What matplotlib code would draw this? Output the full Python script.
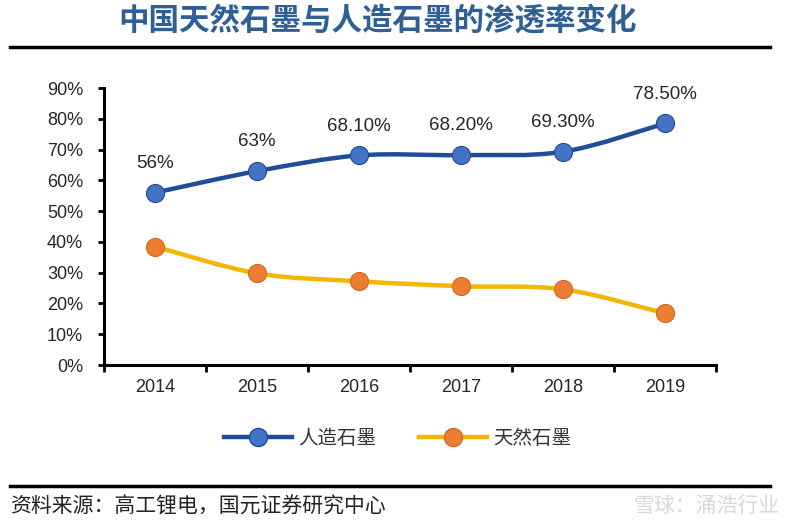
import numpy as np
import matplotlib
matplotlib.use("Agg")
import matplotlib.pyplot as plt
from matplotlib.path import Path
from matplotlib.patches import PathPatch
from matplotlib.lines import Line2D

plt.rcParams['font.family'] = ['Noto Sans CJK SC', 'DejaVu Sans']

years = ['2014', '2015', '2016', '2017', '2018', '2019']
synthetic = [0.56, 0.63, 0.681, 0.682, 0.693, 0.785]
synthetic_labels = ['56%', '63%', '68.10%', '68.20%', '69.30%', '78.50%']
natural = [0.385, 0.298, 0.272, 0.256, 0.246, 0.168]


def smooth_path(x, y, t=0.5 / 3):
    # Excel-style smoothed line as cubic bezier segments
    x = np.asarray(x, float)
    y = np.asarray(y, float)
    verts = [(x[0], y[0])]
    codes = [Path.MOVETO]
    n = len(x)
    for i in range(n - 1):
        x0, y0 = (x[i - 1], y[i - 1]) if i > 0 else (x[i], y[i])
        x3, y3 = (x[i + 2], y[i + 2]) if i + 2 < n else (x[i + 1], y[i + 1])
        c1 = (x[i] + (x[i + 1] - x0) * t, y[i] + (y[i + 1] - y0) * t)
        c2 = (x[i + 1] - (x3 - x[i]) * t, y[i + 1] - (y3 - y[i]) * t)
        verts += [c1, c2, (x[i + 1], y[i + 1])]
        codes += [Path.CURVE4] * 3
    return Path(verts, codes)


fig = plt.figure(figsize=(8, 5.29), dpi=100)
ax = fig.add_axes([0.13, 0.31, 0.765, 0.5236])

xs = np.arange(len(years))
blue_line = '#1F4E96'
blue_dot = '#4472C4'
gold_line = '#F2B705'
orange_dot = '#ED7D31'

ax.add_patch(PathPatch(smooth_path(xs, synthetic), fill=False, edgecolor=blue_line, lw=3.2, zorder=2))
ax.add_patch(PathPatch(smooth_path(xs, natural), fill=False, edgecolor=gold_line, lw=3.2, zorder=2))
ax.scatter(xs, synthetic, s=170, color=blue_dot, edgecolor=blue_line, linewidth=0.8, zorder=3)
ax.scatter(xs, natural, s=170, color=orange_dot, edgecolor='#D06A20', linewidth=0.8, zorder=3)

for x, y, lab in zip(xs, synthetic, synthetic_labels):
    ax.annotate(lab, (x, y), xytext=(0, 15), textcoords='offset points',
                ha='center', va='bottom', fontsize=13.5, color='#262626',
                family='Liberation Sans')

ax.set_xlim(-0.5, len(years) - 0.5)
ax.set_ylim(0, 0.9)
ax.set_yticks(np.arange(0, 0.91, 0.1))
ax.set_yticklabels([f'{int(round(v * 100))}%' for v in np.arange(0, 0.91, 0.1)],
                   family='Liberation Sans', fontsize=13, color='#262626')
ax.set_xticks(xs)
ax.set_xticklabels(years, family='Liberation Sans', fontsize=13, color='#262626')
ax.set_xticks(np.arange(-0.5, len(years), 1), minor=True)
ax.tick_params(axis='x', which='major', length=0, pad=10)
ax.tick_params(axis='x', which='minor', length=5, width=2, direction='out')
ax.tick_params(axis='y', length=4, width=2, direction='out', pad=11)

for s in ['top', 'right']:
    ax.spines[s].set_visible(False)
ax.spines['left'].set_linewidth(2.2)
ax.spines['bottom'].set_linewidth(2.2)

handles = [
    Line2D([], [], color=blue_line, lw=3.2, marker='o', markersize=13,
           markerfacecolor=blue_dot, markeredgecolor=blue_line),
    Line2D([], [], color=gold_line, lw=3.2, marker='o', markersize=13,
           markerfacecolor=orange_dot, markeredgecolor='#D06A20'),
]
fig.legend(handles, ['人造石墨', '天然石墨'], loc='center', bbox_to_anchor=(0.497, 0.172),
           ncol=2, frameon=False, fontsize=14, handlelength=3.5, columnspacing=2.2,
           handletextpad=0.3, labelcolor='#333333')

fig.text(0.472, 0.962, '中国天然石墨与人造石墨的渗透率变化', ha='center', va='center',
         fontsize=22, fontweight='bold', color='#2E6096')
fig.add_artist(Line2D([0.012, 0.962], [0.912, 0.912], color='black', lw=2.5))
fig.add_artist(Line2D([0.012, 0.962], [0.081, 0.081], color='black', lw=2.5))
fig.text(0.012, 0.043, '资料来源：高工锂电，国元证券研究中心', ha='left', va='center',
         fontsize=15, color='#222222')
fig.text(0.975, 0.043, '雪球：涌浩行业', ha='right', va='center',
         fontsize=15, color='#d8d8d8')

fig.savefig('out.png', dpi=100, facecolor='white')
